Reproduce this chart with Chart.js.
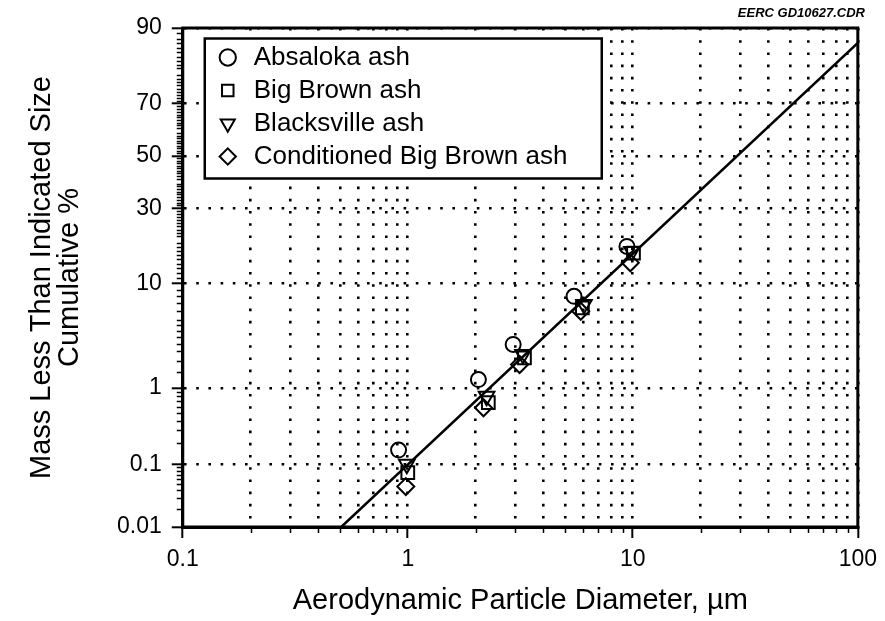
<!DOCTYPE html>
<html>
<head>
<meta charset="utf-8">
<script src="https://cdn.jsdelivr.net/npm/chart.js@4/dist/chart.umd.min.js"></script>
<style>
  body { margin: 0; background: #fff; }
  canvas { display: block; }
</style>
</head>
<body>
<canvas id="psdChart" width="885" height="621"></canvas>
<script>
// Cumulative mass (%) vs aerodynamic diameter (um)
const absalokaX = [0.91, 2.06, 2.94, 5.48, 9.42];
const absalokaY = [0.16, 1.25, 2.94, 7.97, 18.2];
const bigBrownX = [1.00, 2.28, 3.30, 5.97, 10.07];
const bigBrownY = [0.075, 0.67, 2.15, 6.39, 16.5];
const blacksvilleX = [0.99, 2.24, 3.25, 6.07, 9.91];
const blacksvilleY = [0.10, 0.80, 2.33, 6.81, 16.9];
const condBigBrownX = [0.98, 2.17, 3.14, 5.87, 9.75];
const condBigBrownY = [0.046, 0.58, 1.83, 5.97, 14.2];

// fitted line end points
const fitX = [0.506, 100];
const fitY = [0.01, 87.1];

// axis ticks
const yTickValues = [0.01, 0.1, 1, 10, 30, 50, 70, 90];
const yTickLabels = ['0.01', '0.1', '1', '10', '30', '50', '70', '90'];
const yMinorValues = [0.02, 0.03, 0.04, 0.05, 0.06, 0.07, 0.08, 0.09,
  0.2, 0.3, 0.4, 0.5, 0.6, 0.7, 0.8, 0.9,
  1.5, 2, 2.5, 3, 3.5, 4, 4.5, 5, 6, 7, 8, 9];
for (let p = 11; p < 90; p++) if (p % 10 !== 0 && p !== 30 && p !== 50 && p !== 70) yMinorValues.push(p);

const xDecades = [0.1, 1, 10];
const xMultipliers = [1, 2, 3, 4, 5, 6, 7, 8, 9];
const xTickValues = [];
xDecades.forEach(d => xMultipliers.forEach(m => xTickValues.push(+(d * m).toPrecision(3))));
xTickValues.push(100);

const FONT = '"Liberation Sans", Arial, Helvetica, sans-serif';

// inverse normal CDF (Acklam) -> probability paper axis
function probit(p) {
  const a = [-3.969683028665376e+01, 2.209460984245205e+02, -2.759285104469687e+02, 1.383577518672690e+02, -3.066479806614716e+01, 2.506628277459239e+00];
  const b = [-5.447609879822406e+01, 1.615858368580409e+02, -1.556989798598866e+02, 6.680131188771972e+01, -1.328068155288572e+01];
  const c = [-7.784894002430293e-03, -3.223964580411365e-01, -2.400758277161838e+00, -2.549732539343734e+00, 4.374664141464968e+00, 2.938163982698783e+00];
  const d = [7.784695709041462e-03, 3.224671290700398e-01, 2.445134137142996e+00, 3.754408661907416e+00];
  const pl = 0.02425;
  let q, r;
  if (p < pl) {
    q = Math.sqrt(-2 * Math.log(p));
    return (((((c[0]*q+c[1])*q+c[2])*q+c[3])*q+c[4])*q+c[5]) / ((((d[0]*q+d[1])*q+d[2])*q+d[3])*q+1);
  }
  if (p > 1 - pl) {
    q = Math.sqrt(-2 * Math.log(1 - p));
    return -(((((c[0]*q+c[1])*q+c[2])*q+c[3])*q+c[4])*q+c[5]) / ((((d[0]*q+d[1])*q+d[2])*q+d[3])*q+1);
  }
  q = p - 0.5; r = q * q;
  return (((((a[0]*r+a[1])*r+a[2])*r+a[3])*r+a[4])*r+a[5])*q / (((((b[0]*r+b[1])*r+b[2])*r+b[3])*r+b[4])*r+1);
}

function toPoints(xs, ys) {
  return xs.map((x, i) => ({ x: x, y: probit(ys[i] / 100) }));
}

function isDecade(v) {
  const l = Math.log10(v);
  return Math.abs(l - Math.round(l)) < 1e-9;
}

function markerSet(label, xs, ys, style, radius, rotation) {
  return {
    label: label,
    data: toPoints(xs, ys),
    pointStyle: style,
    pointRotation: rotation || 0,
    pointRadius: radius,
    pointBorderWidth: 2,
    pointBorderColor: '#000',
    pointBackgroundColor: 'rgba(0,0,0,0)',
    borderColor: '#000',
    backgroundColor: 'rgba(0,0,0,0)',
    showLine: false
  };
}

// minor ticks, outer frame and boxed legend
const paperExtras = {
  id: 'paperExtras',
  afterLayout(chart) {
    const lg = chart.legend, ca = chart.chartArea;
    lg.left = ca.left + 25;
    lg.top = ca.top + 9.5;
    lg.right = ca.right;
    lg.bottom = ca.bottom;
  },
  afterDraw(chart) {
    const { ctx, chartArea: ca, scales } = chart;
    ctx.save();
    ctx.strokeStyle = '#000';
    ctx.lineWidth = 1.5;
    ctx.beginPath();
    yMinorValues.forEach(p => {
      const py = Math.round(scales.y.getPixelForValue(probit(p / 100))) + 0.5;
      ctx.moveTo(ca.left - 6, py);
      ctx.lineTo(ca.left, py);
    });
    xTickValues.filter(v => !isDecade(v)).forEach(v => {
      const px = Math.round(scales.x.getPixelForValue(v)) + 0.5;
      ctx.moveTo(px, ca.bottom);
      ctx.lineTo(px, ca.bottom + 6);
    });
    ctx.stroke();

    ctx.lineWidth = 3;
    ctx.strokeRect(ca.left, ca.top, ca.right - ca.left, ca.bottom - ca.top);

    const lg = chart.legend;
    const bx = lg.left - 3, by = lg.top + 1;
    ctx.fillStyle = '#fff';
    ctx.fillRect(bx, by, 397, 140);
    ctx.lineWidth = 2.5;
    ctx.strokeRect(bx, by, 397, 140);
    ctx.restore();
    lg.draw();
  }
};

const ctx = document.getElementById('psdChart').getContext('2d');

const psdChart = new Chart(ctx, {
  type: 'scatter',
  data: {
    datasets: [
      markerSet('Absaloka ash', absalokaX, absalokaY, 'circle', 7.5),
      markerSet('Big Brown ash', bigBrownX, bigBrownY, 'rect', 9),
      markerSet('Blacksville ash', blacksvilleX, blacksvilleY, 'triangle', 9, 180),
      markerSet('Conditioned Big Brown ash', condBigBrownX, condBigBrownY, 'rectRot', 8.5),
      {
        label: 'fit',
        data: toPoints(fitX, fitY),
        showLine: true,
        borderColor: '#000',
        borderWidth: 2.5,
        pointRadius: 0,
        fill: false
      }
    ]
  },
  options: {
    responsive: false,
    animation: false,
    events: [],
    layout: { padding: { left: 0, right: 20, top: 0, bottom: 0 } },
    plugins: {
      title: {
        display: true,
        text: 'EERC GD10627.CDR',
        align: 'end',
        color: '#000',
        font: { family: FONT, size: 13, style: 'italic', weight: 'bold' },
        padding: { top: 6, bottom: 6.4 }
      },
      legend: {
        position: 'chartArea',
        align: 'start',
        labels: {
          usePointStyle: true,
          boxWidth: 26,
          boxHeight: 11.5,
          padding: 7,
          color: '#000',
          font: { family: FONT, size: 26 },
          filter: item => item.datasetIndex < 4
        }
      },
      tooltip: { enabled: false }
    },
    scales: {
      x: {
        type: 'logarithmic',
        min: 0.1,
        max: 100,
        afterBuildTicks: scale => { scale.ticks = xTickValues.map(v => ({ value: v })); },
        ticks: {
          autoSkip: false,
          maxRotation: 0,
          padding: 8,
          color: '#000',
          font: { family: FONT, size: 23 },
          callback: v => isDecade(v) ? String(v) : ''
        },
        grid: {
          color: '#000',
          lineWidth: 2.6,
          tickLength: 11,
          tickWidth: 2,
          tickColor: c => (c.tick && isDecade(c.tick.value)) ? '#000' : 'rgba(0,0,0,0)'
        },
        border: { display: true, color: '#000', width: 3, dash: [2.6, 9.6] },
        title: {
          display: true,
          text: 'Aerodynamic Particle Diameter, \u00B5m',
          color: '#000',
          font: { family: FONT, size: 29 },
          padding: { top: 2, bottom: 2.6 }
        }
      },
      y: {
        type: 'linear',
        min: probit(yTickValues[0] / 100),
        max: probit(yTickValues[yTickValues.length - 1] / 100),
        afterBuildTicks: scale => { scale.ticks = yTickValues.map(p => ({ value: probit(p / 100) })); },
        ticks: {
          autoSkip: false,
          padding: 10,
          color: '#000',
          font: { family: FONT, size: 23 },
          callback: (v, i) => yTickLabels[i]
        },
        grid: {
          color: '#000',
          lineWidth: 2.6,
          tickLength: 11,
          tickWidth: 2,
          tickColor: '#000'
        },
        border: { display: true, color: '#000', width: 3, dash: [2.6, 9.6] },
        title: {
          display: true,
          text: ['Mass Less Than Indicated Size', 'Cumulative %'],
          color: '#000',
          font: { family: FONT, size: 29, lineHeight: 28 / 29 },
          padding: { top: 28, bottom: 23 }
        }
      }
    }
  },
  plugins: [paperExtras]
});
</script>
</body>
</html>
